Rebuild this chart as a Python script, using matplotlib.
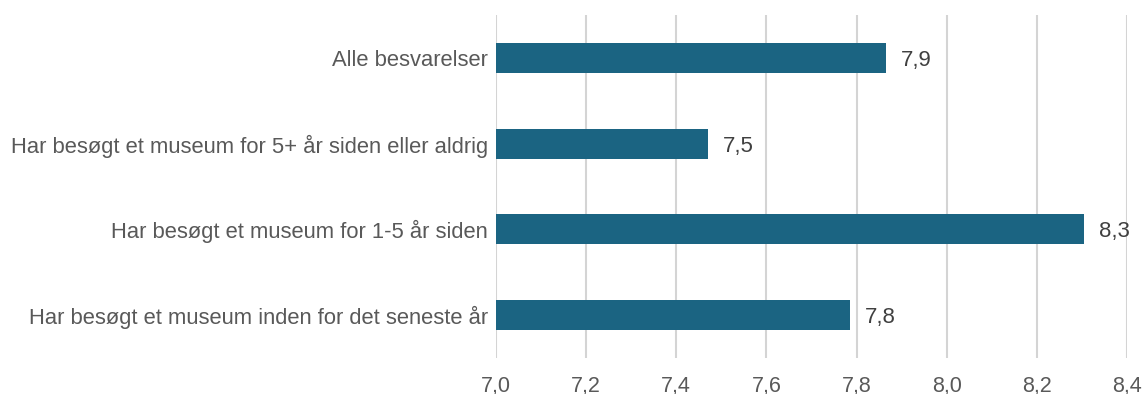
import matplotlib
matplotlib.use("Agg")
import matplotlib.pyplot as plt

categories = [
    "Alle besvarelser",
    "Har besøgt et museum for 5+ år siden eller aldrig",
    "Har besøgt et museum for 1-5 år siden",
    "Har besøgt et museum inden for det seneste år",
]
values = [7.865, 7.47, 8.305, 7.785]
value_labels = ["7,9", "7,5", "8,3", "7,8"]
xticks = [7.0, 7.2, 7.4, 7.6, 7.8, 8.0, 8.2, 8.4]
xtick_labels = ["7,0", "7,2", "7,4", "7,6", "7,8", "8,0", "8,2", "8,4"]

plt.rcParams["font.family"] = ["Liberation Sans", "DejaVu Sans"]

fig = plt.figure(figsize=(11.43, 3.94), dpi=100)
ax = fig.add_axes([496 / 1143, 1 - 358 / 394, (1127 - 496) / 1143, (358 - 15) / 394])

bar_color = "#1b6482"
ys = list(range(len(categories)))
ax.barh(ys, [v - 7.0 for v in values], left=7.0, height=0.35, color=bar_color, zorder=3)
for y, v, lab in zip(ys, values, value_labels):
    ax.text(v + 0.033, y + 0.03, lab, va="center", ha="left", fontsize=16, color="#404040")

ax.set_xlim(7.0, 8.4)
ax.set_ylim(len(categories) - 0.5, -0.5)
ax.set_yticks(ys)
ax.set_yticklabels(categories, fontsize=15.8, color="#595959")
ax.set_xticks(xticks)
ax.set_xticklabels(xtick_labels, fontsize=15.5, color="#595959")
ax.tick_params(axis="y", length=0, pad=6)
ax.tick_params(axis="x", length=0, pad=13)
ax.grid(axis="x", color="#d4d4d4", linewidth=1.5, zorder=0)
for s in ax.spines.values():
    s.set_visible(False)

fig.savefig("out.png", dpi=100)
